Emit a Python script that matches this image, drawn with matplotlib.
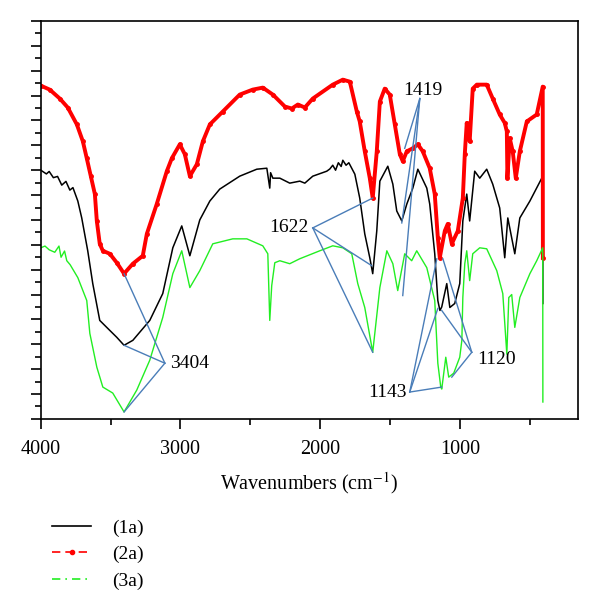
import numpy as np
import matplotlib.pyplot as plt
from matplotlib.lines import Line2D
from matplotlib.ticker import MultipleLocator, NullFormatter

plt.rcParams['font.family'] = ['Liberation Serif', 'DejaVu Serif']
plt.rcParams['mathtext.fontset'] = 'stix'

# (1a) black
wn_1a = [4000, 3960, 3940, 3910, 3880, 3850, 3820, 3792, 3770, 3735, 3707, 3664, 3628, 3578,
         3528, 3456, 3404, 3341, 3220, 3127, 3055, 2991, 2933, 2862, 2790, 2719, 2576, 2454,
         2382, 2361, 2355, 2339, 2289, 2218, 2146, 2110, 2053, 1953, 1931, 1910, 1890, 1870,
         1850, 1838, 1815, 1795, 1752, 1717, 1681, 1645, 1624, 1595, 1573, 1516, 1480, 1452,
         1416, 1380, 1337, 1301, 1237, 1216, 1180, 1158, 1143, 1130, 1094, 1072, 1037, 1001,
         979, 951, 930, 894, 858, 808, 765, 715, 679, 657, 607, 571, 499, 414, 407, 406]
t_1a = [10.0, 9.85, 9.95, 9.7, 9.75, 9.4, 9.55, 9.2, 9.3, 8.76, 8.08, 6.76, 5.44, 3.96,
        3.68, 3.28, 2.96, 3.16, 3.96, 5.04, 6.88, 7.76, 6.56, 8.0, 8.76, 9.24, 9.76, 10.04,
        10.08, 9.28, 9.9, 9.68, 9.68, 9.48, 9.56, 9.48, 9.76, 9.96, 10.05, 10.2, 10.0, 10.3,
        10.15, 10.4, 10.2, 10.3, 9.84, 8.88, 7.44, 6.48, 5.84, 7.56, 9.56, 10.16, 9.44, 8.36,
        7.96, 8.64, 9.28, 10.04, 9.28, 8.64, 6.64, 4.76, 4.36, 4.5, 5.44, 4.48, 4.64, 5.44,
        7.96, 9.04, 7.96, 9.96, 9.68, 10.04, 9.44, 8.48, 6.48, 8.08, 6.64, 8.08, 8.76, 9.68, 9.84, 4.64]

# (2a) red
wn_2a = [4000, 3936, 3864, 3807, 3742, 3699, 3671, 3642, 3613, 3599, 3578, 3556, 3506, 3456,
         3404, 3341, 3270, 3241, 3170, 3098, 3062, 3005, 2969, 2933, 2883, 2840, 2790, 2697,
         2576, 2483, 2411, 2339, 2253, 2203, 2160, 2110, 2053, 1910, 1838, 1788, 1738, 1717,
         1681, 1645, 1624, 1595, 1573, 1538, 1502, 1466, 1430, 1409, 1380, 1337, 1301, 1266,
         1216, 1180, 1158, 1144, 1108, 1087, 1058, 1015, 979, 965, 951, 944, 930, 908, 879,
         808, 765, 715, 679, 664, 660, 643, 622, 600, 571, 521, 450, 407, 406]
t_2a = [13.40, 13.24, 12.88, 12.52, 11.84, 11.16, 10.48, 9.76, 9.04, 7.96, 7.04, 6.76, 6.64, 6.28,
        5.84, 6.24, 6.56, 7.44, 8.64, 9.96, 10.48, 11.04, 10.64, 9.76, 10.24, 11.16, 11.84, 12.36,
        13.04, 13.24, 13.32, 13.04, 12.56, 12.48, 12.64, 12.52, 12.88, 13.44, 13.64, 13.56, 12.36, 11.96,
        10.76, 9.68, 8.88, 10.76, 12.76, 13.28, 13.04, 11.84, 10.64, 10.36, 10.76, 10.88, 11.04, 10.76,
        10.08, 9.04, 7.28, 6.48, 7.56, 7.84, 7.04, 7.56, 8.88, 10.64, 11.9, 11.56, 11.16, 13.28, 13.44,
        13.44, 12.88, 12.24, 11.9, 11.56, 9.68, 11.28, 10.76, 9.68, 10.76, 11.96, 12.24, 13.36, 6.48]

# (3a) green
wn_3a = [4000, 3970, 3940, 3900, 3870, 3855, 3830, 3814, 3790, 3735, 3671, 3649, 3599, 3556,
         3485, 3404, 3313, 3220, 3127, 3055, 2991, 2933, 2862, 2769, 2626, 2525, 2411, 2375,
         2361, 2347, 2325, 2289, 2218, 2146, 2003, 1910, 1838, 1774, 1731, 1681, 1624, 1573,
         1523, 1480, 1445, 1395, 1345, 1309, 1237, 1180, 1158, 1137, 1130, 1101, 1080, 1044,
         1001, 986, 979, 965, 951, 930, 908, 858, 808, 736, 693, 664, 650, 629, 607, 571,
         499, 450, 407, 406]
t_3a = [6.88, 6.95, 6.8, 6.7, 6.95, 6.5, 6.75, 6.36, 6.2, 5.68, 4.76, 3.44, 2.08, 1.28,
        1.04, 0.28, 1.16, 2.36, 4.08, 5.84, 6.76, 5.28, 5.96, 7.04, 7.24, 7.24, 6.96, 6.64,
        3.96, 5.36, 6.28, 6.36, 6.24, 6.44, 6.76, 6.96, 6.88, 6.64, 5.44, 4.48, 2.68, 5.28,
        6.76, 6.24, 5.16, 6.64, 6.36, 6.76, 6.08, 4.76, 2.24, 1.28, 1.2, 2.48, 1.68, 1.84,
        2.48, 3.16, 4.88, 6.24, 6.76, 5.56, 6.64, 6.88, 6.84, 5.96, 5.04, 2.6, 4.88, 5.0, 3.68, 4.88,
        5.84, 6.36, 6.88, 0.68]

# peak labels: label, label anchor (wn, t), targets on the curves
peak_labels = ['3404', '1622', '1419', '1143', '1120']
peak_anchor = [(3112, 2.24), (2053, 7.68), (1287, 12.88), (1359, 1.08), (915, 2.68)]
peak_targets = [
    [(3404, 5.84), (3404, 2.96), (3404, 0.28)],
    [(1624, 8.88), (1631, 6.16), (1624, 2.68)],
    [(1395, 10.88), (1416, 7.88), (1409, 4.96)],
    [(1165, 6.44), (1158, 4.44), (1130, 1.28)],
    [(1122, 6.44), (1130, 4.36), (1058, 1.68)],
]
label_pos = [('left', 'center', 4, 0), ('right', 'center', -3, 0), ('center', 'bottom', 2, 0),
             ('right', 'center', -2, 0), ('left', 'center', 4, -5)]

fig = plt.figure(figsize=(6, 6.08), dpi=100)
ax = fig.add_axes([0.068, 0.311, 0.895, 0.6545])

ax.plot(wn_1a, t_1a, color='black', lw=1.1)
ax.plot(wn_2a, t_2a, color='#ff0000', lw=2.8, marker='o', ms=2.5)
ax.plot(wn_3a, t_3a, color='#22ee22', lw=1.0)

blue = '#4a7db8'
for lab, (vx, vy), tg, (ha, va, dx, dy) in zip(peak_labels, peak_anchor, peak_targets, label_pos):
    for tx, ty in tg:
        ax.plot([vx, tx], [vy, ty], color=blue, lw=1.0)
    ax.annotate(lab, xy=(vx, vy), xytext=(dx, dy), textcoords='offset points',
                ha=ha, va=va, fontsize=14)

ax.set_xlim(4000, 156)
ax.set_ylim(0, 16)
ax.xaxis.set_major_locator(MultipleLocator(1000))
ax.xaxis.set_minor_locator(MultipleLocator(500))
ax.yaxis.set_major_locator(MultipleLocator(1))
ax.yaxis.set_minor_locator(MultipleLocator(0.5))
ax.yaxis.set_major_formatter(NullFormatter())
ax.tick_params(which='major', direction='out', length=7, width=1.2, labelsize=14.5, pad=8)
ax.tick_params(which='minor', direction='out', length=4, width=1.2)
ax.tick_params(top=False, right=False, which='both')
for s in ax.spines.values():
    s.set_linewidth(1.2)

ax.set_xlabel('Wavenumbers (cm$^{-1}$)', fontsize=14.5, labelpad=8)

handles = [
    Line2D([], [], color='black', lw=1.2),
    Line2D([], [], color='#ff0000', lw=1.2, ls=(0, (5, 3)), marker='o', ms=3),
    Line2D([], [], color='#22ee22', lw=1.2, ls=(0, (5, 3, 1, 3))),
]
fig.legend(handles, ['(1a)', '(2a)', '(3a)'], loc='upper left', bbox_to_anchor=(0.058, 0.175),
           frameon=False, fontsize=14, handlelength=2.0, handletextpad=1.1, labelspacing=0.45,
           numpoints=1)

fig.savefig('out.png', dpi=100)
